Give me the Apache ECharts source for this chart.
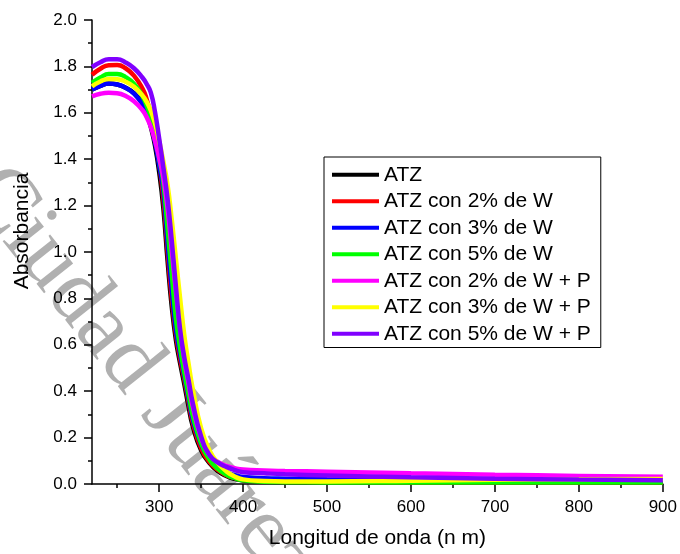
<!DOCTYPE html>
<html>
<head>
<meta charset="utf-8">
<script src="https://cdn.jsdelivr.net/npm/echarts@6/dist/echarts.min.js"></script>
<style>
  html, body { margin: 0; padding: 0; background: #fff; }
  #chart { width: 680px; height: 554px; }
</style>
</head>
<body>
<div id="chart"></div>
<script>
// wavelength (nm) shared by all spectra
const wavelength = [220, 230, 240, 250, 260, 270, 280, 285, 290, 295, 300, 305, 310, 315, 320, 325, 330, 335, 340, 350, 360, 370, 380, 390, 400, 425, 450, 500, 600, 700, 800, 900];

const atz      = [1.700, 1.716, 1.726, 1.722, 1.708, 1.685, 1.640, 1.600, 1.540, 1.460, 1.345, 1.190, 0.965, 0.765, 0.620, 0.520, 0.430, 0.335, 0.250, 0.145, 0.090, 0.055, 0.035, 0.022, 0.015, 0.010, 0.008, 0.007, 0.006, 0.006, 0.006, 0.006];
const atzW2    = [1.764, 1.790, 1.805, 1.806, 1.792, 1.760, 1.705, 1.660, 1.590, 1.500, 1.385, 1.230, 1.005, 0.800, 0.645, 0.540, 0.450, 0.355, 0.265, 0.155, 0.095, 0.060, 0.038, 0.025, 0.017, 0.011, 0.009, 0.008, 0.007, 0.007, 0.007, 0.007];
const atzW3    = [1.700, 1.716, 1.726, 1.722, 1.708, 1.683, 1.638, 1.600, 1.548, 1.475, 1.375, 1.265, 1.040, 0.840, 0.665, 0.560, 0.465, 0.370, 0.280, 0.170, 0.110, 0.075, 0.052, 0.038, 0.030, 0.025, 0.023, 0.021, 0.019, 0.017, 0.016, 0.015];
const atzW5    = [1.729, 1.752, 1.767, 1.767, 1.754, 1.725, 1.672, 1.632, 1.578, 1.500, 1.405, 1.300, 1.100, 0.905, 0.710, 0.585, 0.480, 0.385, 0.295, 0.175, 0.105, 0.065, 0.040, 0.025, 0.016, 0.010, 0.008, 0.007, 0.006, 0.006, 0.006, 0.006];
const atzW2P   = [1.671, 1.682, 1.686, 1.684, 1.673, 1.650, 1.612, 1.582, 1.540, 1.480, 1.405, 1.320, 1.190, 1.010, 0.830, 0.665, 0.535, 0.435, 0.335, 0.200, 0.125, 0.095, 0.078, 0.068, 0.062, 0.058, 0.056, 0.053, 0.046, 0.040, 0.035, 0.031];
const atzW3P   = [1.714, 1.735, 1.746, 1.745, 1.734, 1.712, 1.675, 1.648, 1.610, 1.555, 1.480, 1.390, 1.290, 1.140, 0.970, 0.800, 0.640, 0.520, 0.410, 0.240, 0.145, 0.090, 0.055, 0.032, 0.020, 0.013, 0.011, 0.011, 0.014, 0.018, 0.021, 0.022];
const atzW5P   = [1.797, 1.818, 1.831, 1.831, 1.817, 1.792, 1.752, 1.725, 1.688, 1.605, 1.490, 1.365, 1.230, 1.050, 0.850, 0.665, 0.545, 0.450, 0.350, 0.205, 0.125, 0.092, 0.074, 0.060, 0.051, 0.046, 0.042, 0.037, 0.029, 0.023, 0.019, 0.016];

const seriesNames = ['ATZ', 'ATZ con 2% de W', 'ATZ con 3% de W', 'ATZ con 5% de W',
                     'ATZ con 2% de W + P', 'ATZ con 3% de W + P', 'ATZ con 5% de W + P'];
const seriesData = [atz, atzW2, atzW3, atzW5, atzW2P, atzW3P, atzW5P];
const colors = ['#000000', '#ff0000', '#0000ff', '#00ff00', '#ff00ff', '#ffff00', '#8000ff'];

const xMajorTicks = [300, 400, 500, 600, 700, 800, 900];
const xMinorTicks = [250, 350, 450, 550, 650, 750, 850];

const FONT = '"Liberation Sans", Arial, sans-serif';

const chart = echarts.init(document.getElementById('chart'));

const series = seriesNames.map((name, i) => ({
  name: name,
  type: 'line',
  smooth: 0.5,
  symbol: 'none',
  lineStyle: { color: colors[i], width: 4.5 },
  itemStyle: { color: colors[i] },
  data: wavelength.map((w, k) => [w, seriesData[i][k]])
}));

chart.setOption({
  animation: false,
  color: colors,
  grid: { left: 92, right: 14, top: 20, bottom: 67 },
  legend: {
    orient: 'vertical',
    left: 324,
    top: 157,
    padding: [7, 10, 3, 8],
    borderColor: '#000',
    borderWidth: 1,
    itemWidth: 47,
    itemHeight: 4,
    itemGap: 5,
    icon: 'rect',
    selectedMode: false,
    textStyle: { fontSize: 21, fontFamily: FONT, color: '#000', lineHeight: 21.5 },
    data: seriesNames
  },
  graphic: [
    {
      // watermark behind the plot
      type: 'text',
      z: -10,
      x: 18, y: 150,
      rotation: -0.9,
      silent: true,
      style: {
        text: 'Ciudad Juárez',
        font: '90px "Liberation Serif", serif',
        fill: 'rgba(150,150,150,0.75)'
      }
    },
    {
      type: 'text',
      x: 22, y: 231,
      rotation: Math.PI / 2,
      style: {
        text: 'Absorbancia',
        font: '21px ' + FONT,
        fill: '#000',
        align: 'center',
        verticalAlign: 'middle'
      }
    }
  ],
  xAxis: [
    {
      type: 'value',
      min: 220,
      max: 900,
      name: 'Longitud de onda (n m)',
      nameLocation: 'middle',
      nameGap: 44,
      nameTextStyle: { fontSize: 21, fontFamily: FONT, color: '#000' },
      axisLine: { show: true, lineStyle: { color: '#000', width: 1.5 } },
      axisTick: { show: true, inside: false, length: 8, lineStyle: { color: '#000', width: 1.5 }, customValues: xMajorTicks },
      axisLabel: { fontSize: 17, fontFamily: FONT, color: '#000', margin: 15, customValues: xMajorTicks },
      splitLine: { show: false }
    },
    {
      type: 'value',
      min: 220,
      max: 900,
      position: 'bottom',
      axisLine: { show: false },
      axisTick: { show: true, inside: false, length: 4, lineStyle: { color: '#000', width: 1.5 }, customValues: xMinorTicks },
      axisLabel: { show: false },
      splitLine: { show: false }
    }
  ],
  yAxis: {
    type: 'value',
    min: 0,
    max: 2,
    interval: 0.2,
    axisLine: { show: true, lineStyle: { color: '#000', width: 1.5 } },
    axisTick: { show: true, inside: false, length: 8, lineStyle: { color: '#000', width: 1.5 } },
    minorTick: { show: true, splitNumber: 2, length: 4, lineStyle: { color: '#000', width: 1.5 } },
    axisLabel: { fontSize: 17, fontFamily: FONT, color: '#000', margin: 15, formatter: v => v.toFixed(1) },
    splitLine: { show: false }
  },
  series: series
});
</script>
</body>
</html>
